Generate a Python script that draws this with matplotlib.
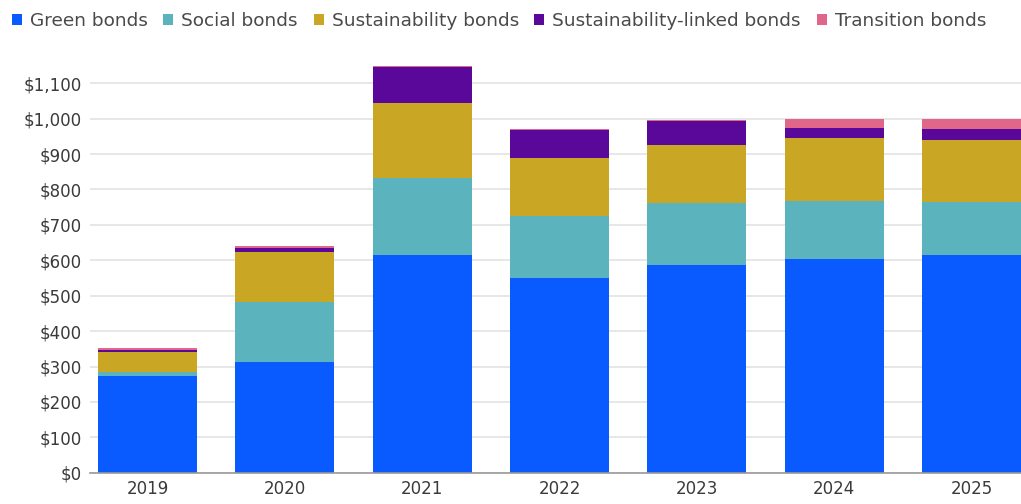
import matplotlib
matplotlib.use("Agg")
import matplotlib.pyplot as plt
import numpy as np
from matplotlib.patches import Patch
from matplotlib.ticker import FuncFormatter

years = ["2019", "2020", "2021", "2022", "2023", "2024", "2025"]
series_names = ["Green bonds", "Social bonds", "Sustainability bonds",
                "Sustainability-linked bonds", "Transition bonds"]

# Issuance by bond type, $bn
green = [273, 313, 615, 551, 587, 603, 615]
social = [12, 170, 217, 175, 174, 165, 151]
sustainability = [55, 141, 211, 162, 165, 177, 174]
sust_linked = [7, 12, 102, 80, 68, 30, 30]
transition = [4, 3, 4, 2, 1, 24, 29]

colors = ["#0a5bff", "#5bb4bd", "#c9a724", "#5a0899", "#e0668a"]
text_col = "#3a3a3a"

plt.rcParams["font.family"] = ["DejaVu Sans"]

fig = plt.figure(figsize=(10.21, 5.04), dpi=100)
ax = fig.add_axes([0.088, 0.062, 0.912, 0.829])

x = np.arange(len(years))
bottom = np.zeros(len(years))
for vals, col in zip([green, social, sustainability, sust_linked, transition], colors):
    ax.bar(x, vals, width=0.72, bottom=bottom, color=col, zorder=3)
    bottom += np.array(vals)

ax.set_xlim(-0.42, 6.36)
ax.set_ylim(0, 1180)
ax.set_yticks(np.arange(0, 1101, 100))
ax.yaxis.set_major_formatter(FuncFormatter(lambda v, p: f"${v:,.0f}"))
ax.set_xticks(x)
ax.set_xticklabels(years)

ax.grid(axis="y", color="#e3e3e3", linewidth=1.2, zorder=0)
ax.tick_params(axis="both", length=0, labelsize=12, colors=text_col)
ax.tick_params(axis="y", pad=6)
ax.tick_params(axis="x", pad=5)
for side in ["top", "right", "left"]:
    ax.spines[side].set_visible(False)
ax.spines["bottom"].set_color("#999999")
ax.spines["bottom"].set_linewidth(1.2)
ax.spines["bottom"].set_zorder(4)

handles = [Patch(facecolor=c, edgecolor="none") for c in colors]
fig.legend(handles, series_names, loc="upper left",
           bbox_to_anchor=(12 / 1021, 1 - 12 / 504),
           ncol=5, frameon=False, fontsize=13.3, handlelength=0.54,
           handleheight=0.54, handletextpad=0.43, columnspacing=0.85,
           labelcolor="#4a4a4a", borderpad=0, borderaxespad=0)

fig.savefig("out.png", dpi=100)
